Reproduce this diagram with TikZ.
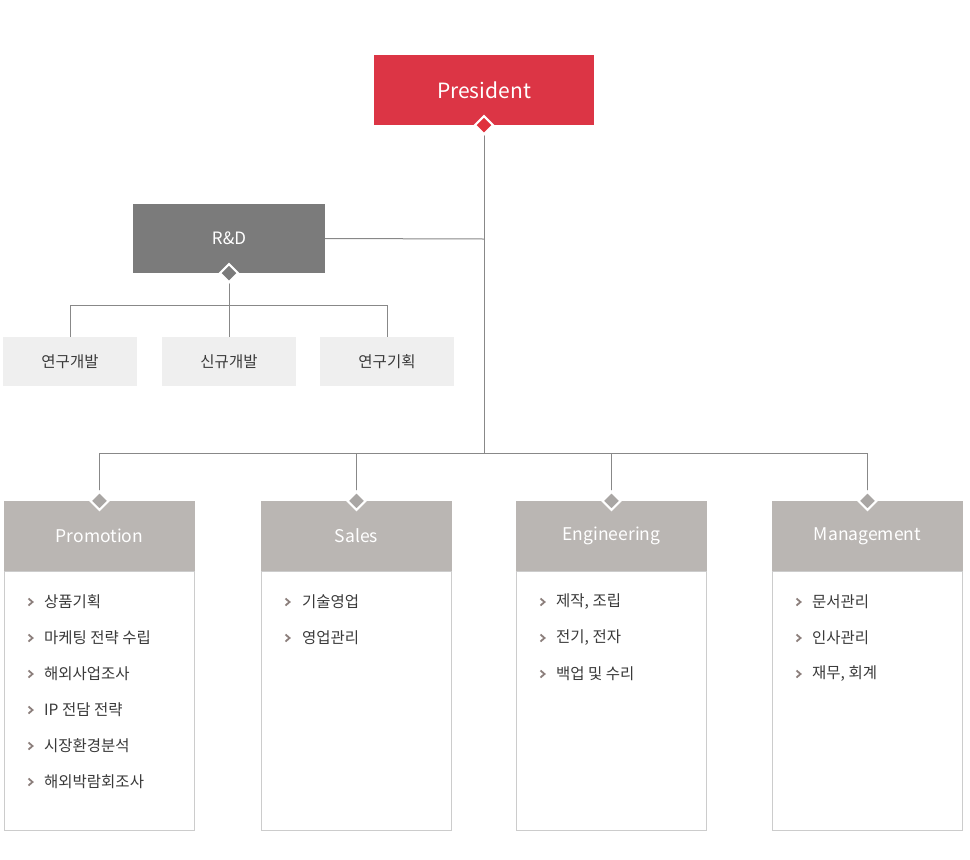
\documentclass[tikz,border=0pt]{standalone}
\usepackage{fontspec}
\setmainfont{Noto Sans CJK KR}
\usetikzlibrary{shapes.geometric}
\definecolor{pres}{HTML}{DC3545}
\definecolor{presd}{HTML}{E0323C}
\definecolor{rd}{HTML}{7B7B7B}
\definecolor{subbg}{HTML}{EFEFEF}
\definecolor{hdr}{HTML}{BAB6B3}
\definecolor{hdrd}{HTML}{A9A6A4}
\definecolor{conn}{HTML}{888888}
\definecolor{txt}{HTML}{3A3A3A}
\definecolor{bul}{HTML}{8C7F7C}
\definecolor{lst}{HTML}{CCCCCC}
\tikzset{
  box/.style={rectangle, inner sep=0pt, text=white},
  pbox/.style={box, fill=pres, minimum width=220pt, minimum height=70pt, font=\fontsize{21}{24}\selectfont},
  rdbox/.style={box, fill=rd, minimum width=192pt, minimum height=69pt, font=\fontsize{17}{20}\selectfont},
  subbox/.style={rectangle, inner sep=0pt, fill=subbg, minimum width=134pt, minimum height=49pt, text=txt, font=\fontsize{15.5}{18}\selectfont},
  hbox/.style={box, fill=hdr, minimum width=191pt, minimum height=70pt, font=\fontsize{17.5}{20}\selectfont},
  lbox/.style={rectangle, draw=lst, line width=1pt, minimum width=190pt, minimum height=259pt, inner sep=0pt},
  dmd/.style={diamond, draw=white, line width=2.2pt, minimum width=19pt, minimum height=19pt, inner sep=0pt},
  conn/.style={draw=conn, line width=1pt},
  item/.style={anchor=west, inner sep=0pt, text=txt, font=\fontsize{15.5}{18}\selectfont},
  bullet/.style={draw=bul, line width=1.8pt}
}
\newcommand{\chev}[2]{\draw[bullet] (#1-2.5,#2-3.5) -- (#1+1.5,#2) -- (#1-2.5,#2+3.5);}
\begin{document}
\begin{tikzpicture}[x=1pt,y=-1pt]
\useasboundingbox[fill=white] (0,0) rectangle (970,860);

% President
\node[pbox] (pres) at (484,90) {President};
% R&D
\node[rdbox] (rd) at (229,238.5) {R\&D};
\coordinate (rdj) at (484,239);
\coordinate (mainj) at (484,453);

\draw[conn] (pres.south) -- (mainj);
\draw[conn] (rd.east) -- (rdj);

% R&D subs
\node[subbox] (s1) at (70,361.5) {연구개발};
\node[subbox] (s2) at (229,361.5) {신규개발};
\node[subbox] (s3) at (387,361.5) {연구기획};
\coordinate (rdb) at (229,305);
\draw[conn] (rd.south) -- (rdb);
\draw[conn] (s1.north) -- (70,305) -- (387,305) -- (s3.north);
\draw[conn] (rdb) -- (s2.north);

% Headers
\node[hbox] (h1) at (99.5,536) {Promotion};
\node[hbox] (h2) at (356.5,536) {Sales};
\node[hbox] (h3) at (611.5,536) {Engineering};
\node[hbox] (h4) at (867.5,536) {Management};

\draw[conn] (h1.north) -- (99.5,453) -- (867.5,453) -- (h4.north);
\draw[conn] (h2.north) -- (356.5,453);
\draw[conn] (h3.north) -- (611.5,453);

% list boxes
\node[lbox, anchor=north] (l1) at (h1.south) {};
\node[lbox, anchor=north] (l2) at (h2.south) {};
\node[lbox, anchor=north] (l3) at (h3.south) {};
\node[lbox, anchor=north] (l4) at (h4.south) {};

% diamonds
\node[dmd, fill=presd] (dp) at (pres.south) {};
\node[dmd, fill=rd] (dr) at (rd.south) {};
\node[dmd, fill=hdrd] (d1) at (h1.north) {};
\node[dmd, fill=hdrd] (d2) at (h2.north) {};
\node[dmd, fill=hdrd] (d3) at (h3.north) {};
\node[dmd, fill=hdrd] (d4) at (h4.north) {};

% Promotion items
\chev{31}{602}\node[item] (p1) at (44,602) {상품기획};
\chev{31}{638}\node[item] (p2) at (44,638) {마케팅 전략 수립};
\chev{31}{674}\node[item] (p3) at (44,674) {해외사업조사};
\chev{31}{710}\node[item] (p4) at (44,710) {IP 전담 전략};
\chev{31}{746}\node[item] (p5) at (44,746) {시장환경분석};
\chev{31}{782}\node[item] (p6) at (44,782) {해외박람회조사};
% Sales
\chev{288}{602}\node[item] (q1) at (302,602) {기술영업};
\chev{288}{638}\node[item] (q2) at (302,638) {영업관리};
% Engineering
\chev{543}{602}\node[item] (e1) at (556,602) {제작, 조립};
\chev{543}{638}\node[item] (e2) at (556,638) {전기, 전자};
\chev{543}{674}\node[item] (e3) at (556,674) {백업 및 수리};
% Management
\chev{799}{602}\node[item] (m1) at (812,602) {문서관리};
\chev{799}{638}\node[item] (m2) at (812,638) {인사관리};
\chev{799}{674}\node[item] (m3) at (812,674) {재무, 회계};
\end{tikzpicture}
\end{document}
